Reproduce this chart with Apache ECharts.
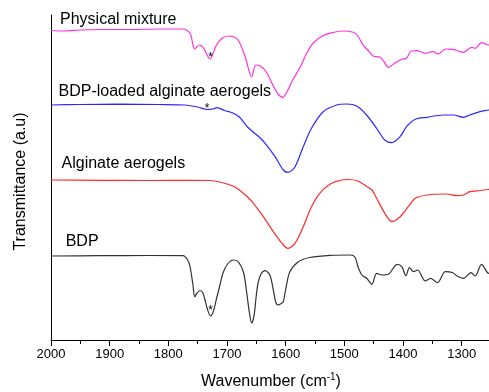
<!DOCTYPE html>
<html><head><meta charset="utf-8">
<script src="https://cdn.jsdelivr.net/npm/echarts@6/dist/echarts.min.js"></script>
<style>html,body{margin:0;padding:0;background:#fff}#c{width:489px;height:392px}</style>
</head><body><div id="c"></div>
<script>
// Wavenumber (cm-1) and transmittance (a.u., arbitrary offset units)
const mixWn = [2000,1977,1951,1917,1866,1814,1775,1763,1755,1747,1740,1729,1718,1709,1698,1690,1681,1669,1658,1651,1644,1634,1622,1613,1605,1598,1588,1576,1564,1553,1536,1519,1502,1485,1477,1468,1460,1451,1439,1432,1425,1414,1402,1394,1386,1376,1369,1362,1349,1340,1328,1315,1306,1297,1283,1277,1266,1255,1248];
const mixT  = [309.5,309,310,310.5,310.5,311,311,306.7,291,295,292,281,295,301.5,304,303.5,300,283.3,263,275,274.3,269,255,246,242.7,248,260,272,287,297,304.5,307.5,309,307.7,304,295,290,284,282.7,278,272.7,277,280.7,281.7,289,289.3,288,286.7,288.3,286,291,290.7,289,287.7,292.7,291.7,297.3,295,296];

const loadedWn = [2000,1951,1883,1815,1772,1750,1733,1724,1717,1704,1690,1679,1665,1656,1647,1635,1618,1604,1596,1584,1570,1556,1536,1513,1496,1479,1462,1445,1431,1419,1405,1394,1379,1359,1331,1314,1297,1286,1269,1254,1248];
const loadedT  = [235,235.5,235.8,235.5,235,233,230.5,231,232.3,229.5,227,223,213,208.3,204,196.7,183.3,170,167.7,173.3,193.3,211.7,228.3,235,236,234,225,211.7,200,197.3,203.3,213.3,220.7,222.7,225,225,222.7,225,228.3,230,231];

const algWn = [2000,1917,1832,1763,1729,1709,1690,1679,1665,1655,1638,1621,1604,1596,1584,1570,1556,1542,1524,1508,1494,1477,1463,1453,1445,1431,1419,1405,1391,1379,1359,1325,1308,1297,1286,1269,1255,1248];
const algT  = [160,159.7,159.5,159.7,159.5,157.5,154,150,143,136.7,123.3,108.3,95,91.7,96.7,113.3,133.3,146.7,156,159.5,160.5,159,154,150,141.7,126.7,118.3,123.3,133.3,141.7,145,146,144.3,145,148.3,149.5,150.5,151];

const bdpWn = [2000,1917,1832,1775,1767,1763,1758,1755,1751,1746,1741,1738,1733,1728,1723,1718,1712,1707,1699,1689,1681,1672,1667,1662,1658,1654,1650,1647,1642,1635,1627,1621,1617,1613,1607,1604,1598,1593,1579,1559,1524,1490,1482,1476,1470,1462,1453,1445,1436,1425,1410,1402,1395,1389,1382,1375,1362,1353,1341,1328,1315,1308,1297,1284,1277,1266,1254,1248];
const bdpT  = [84,84.3,84.5,84.3,80,73.3,55,43.3,47,49.5,47,41,30,24,29,41,55,66.7,76,80,78.3,68,50,28,17,24,45,57,66,69.3,65,50,38,35,36.7,38.3,56.7,68,78,82.5,84.7,85,83,72,65,61.7,55.7,66.7,65,65.7,75.7,73.3,64.3,72.3,68.3,70,59,61.7,57.3,68.3,67.3,64,61.7,67.3,64,75.7,66.7,68];

// asterisk annotations [wavenumber, transmittance]
const mixStar = [1728, 282.5];
const loadedStar = [1734, 231.2];
const bdpStar = [1728, 29.8];

const seriesNames = ['Physical mixture','BDP-loaded alginate aerogels','Alginate aerogels','BDP'];
const majorTicks = [2000,1900,1800,1700,1600,1500,1400,1300];
const minorTicks = [1950,1850,1750,1650,1550,1450,1350,1250];

const FONT = 'Liberation Sans, Arial, sans-serif';
const zip = (a,b) => a.map((v,i)=>[v,b[i]]);
function star(c){
  return {symbol:'circle',symbolSize:1,itemStyle:{color:'rgba(0,0,0,0)'},
    label:{show:true,position:'inside',formatter:'*',color:'#000',fontSize:12,fontFamily:FONT},
    data:[{coord:c}], silent:true, animation:false};
}
function line(name,wn,t,color,st){
  return {name,type:'line',data:zip(wn,t),showSymbol:false,smooth:0.3,
    lineStyle:{color,width:1.2},itemStyle:{color},animation:false,
    markPoint: st ? star(st) : undefined};
}
const chart = echarts.init(document.getElementById('c'),null,{renderer:'canvas'});
chart.setOption({
  backgroundColor:'#fff',
  animation:false,
  grid:{left:51,top:15,width:440,height:325,containLabel:false,outerBoundsMode:'none'},
  xAxis:[{
    type:'value',min:1250,max:2000,interval:50,inverse:true,
    name:'Wavenumber (cm{sup|-1})',nameLocation:'middle',nameGap:32,
    nameTextStyle:{fontSize:16,fontFamily:FONT,color:'#000',
      rich:{sup:{fontSize:10,fontFamily:FONT,color:'#000',padding:[0,0,9,0]}}},
    axisLine:{show:true,lineStyle:{color:'#000',width:1}},
    axisTick:{show:true,length:6,customValues:majorTicks,lineStyle:{color:'#000'}},
    axisLabel:{customValues:majorTicks,formatter:v=>String(v),fontSize:13,fontFamily:FONT,color:'#000',margin:8},
    splitLine:{show:false}
  },{
    type:'value',min:1250,max:2000,interval:50,inverse:true,position:'bottom',
    axisLine:{show:false},
    axisTick:{show:true,length:4,customValues:minorTicks,lineStyle:{color:'#000'}},
    axisLabel:{show:false},splitLine:{show:false}
  }],
  yAxis:{
    type:'value',min:0,max:325,
    name:'Transmittance (a.u)',nameLocation:'middle',nameGap:22,nameRotate:90,
    nameTextStyle:{fontSize:16,fontFamily:FONT,color:'#000',padding:[0,0,0,-8]},
    axisLine:{show:true,lineStyle:{color:'#000',width:1}},
    axisTick:{show:false},axisLabel:{show:false},splitLine:{show:false}
  },
  series:[
    line(seriesNames[0],mixWn,mixT,'#ff30e0',mixStar),
    line(seriesNames[1],loadedWn,loadedT,'#2a2aff',loadedStar),
    line(seriesNames[2],algWn,algT,'#ff2a2a',null),
    line(seriesNames[3],bdpWn,bdpT,'#333333',bdpStar)
  ],
  graphic:[
    {type:'text',style:{text:seriesNames[0],x:60,y:20,verticalAlign:'middle',font:'16px '+FONT,fill:'#000'}},
    {type:'text',style:{text:seriesNames[1],x:58.5,y:92,verticalAlign:'middle',font:'16px '+FONT,fill:'#000'}},
    {type:'text',style:{text:seriesNames[2],x:61.5,y:164,verticalAlign:'middle',font:'16px '+FONT,fill:'#000'}},
    {type:'text',style:{text:seriesNames[3],x:65.7,y:241.5,verticalAlign:'middle',font:'16px '+FONT,fill:'#000'}}
  ]
});
</script></body></html>
